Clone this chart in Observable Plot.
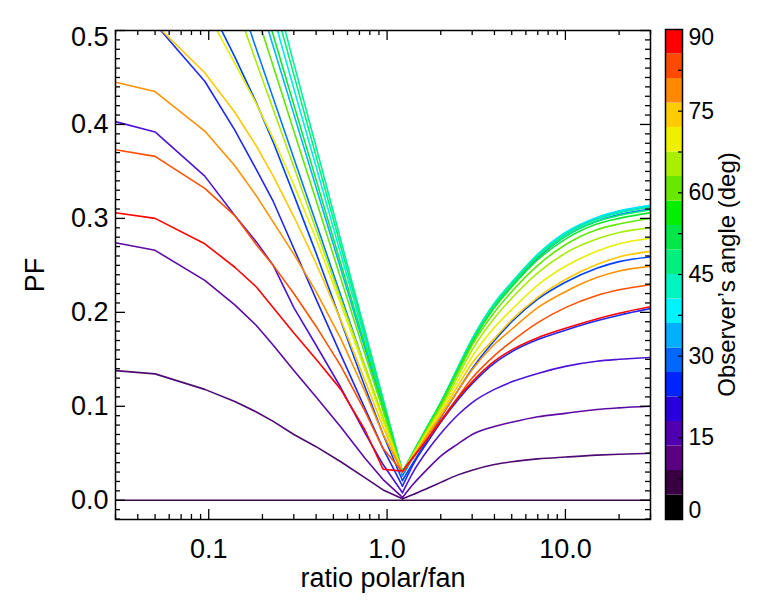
<!DOCTYPE html>
<html><head><meta charset="utf-8">
<script src="https://cdn.jsdelivr.net/npm/d3@7"></script>
<script src="https://cdn.jsdelivr.net/npm/@observablehq/plot@0.6"></script>
<style>
body{margin:0;background:#fff;}
#wrap{position:relative;width:764px;height:611px;background:#fff;}
#wrap svg{position:absolute;top:0;}
</style></head><body><div id="wrap"></div>
<script>
// ---- data ----
const ANGLES = [0,5,10,15,20,25,30,35,40,45,50,55,60,65,70,75,80,85,90];
const LINE_COLORS = ["#3a0a48","#4d0a72","#5c0aa5","#4c14d4","#1e28f0","#0040ff","#0078ff","#00b4ff","#00e8f0","#00f0a0","#00f070","#10e830","#60e800","#a8ec00","#e8f000","#ffc800","#ff9000","#ff5000","#ff0000"];
const X_LEFT  = [0.03, 0.05, 0.095, 0.14, 0.185, 0.23, 0.3, 0.4, 0.55, 0.75, 0.95, 1.22];
const X_RIGHT = [1.22, 1.4, 1.7, 2, 2.5, 3, 4, 5, 7, 10, 15, 20, 30];

const L00 = [0,0,0,0,0,0,0,0,0,0,0,0];
const L05 = [.138,.1345,.118,.105,.094,.084,.070,.057,.041,.024,.011,.0015];
const L10 = [.274,.266,.234,.208,.186,.165,.138,.110,.078,.045,.022,.003];
const L15 = [.403,.392,.345,.303,.275,.250,.205,.165,.120,.072,.038,.008];
const L20 = [.522,.507,.446,.394,.352,.318,.268,.214,.155,.098,.055,.015];
const L25 = [.660,.600,.536,.472,.423,.381,.325,.263,.191,.121,.070,.021];
const L30 = [.919,.796,.641,.548,.480,.428,.364,.295,.218,.143,.086,.026];
const L35 = [1.037,.898,.724,.618,.542,.483,.411,.333,.246,.162,.098,.030];
const L40 = [1.109,.960,.774,.660,.579,.516,.438,.355,.262,.172,.103,.030];
const L45 = [1.180,1.021,.822,.702,.615,.548,.465,.376,.277,.181,.108,.030];
const L50 = [1.148,.994,.801,.683,.599,.533,.453,.366,.270,.177,.106,.030];
const L55 = [1.063,.920,.742,.633,.555,.495,.421,.341,.252,.166,.100,.030];
const L60 = [.989,.857,.691,.590,.518,.462,.393,.319,.236,.156,.095,.030];
const L65 = [.888,.769,.621,.531,.466,.416,.355,.288,.214,.143,.088,.030];
const L70 = [.620,.575,.524,.465,.422,.385,.336,.278,.209,.139,.084,.030];
const L75 = [.515,.507,.455,.413,.377,.345,.302,.252,.192,.128,.078,.030];
const L80 = [.445,.435,.393,.356,.324,.296,.262,.222,.172,.116,.070,.030];
const L85 = [.373,.366,.332,.303,.272,.250,.220,.185,.143,.095,.055,.030];
const L90 = [.306,.300,.273,.248,.227,.205,.178,.150,.118,.075,.033,.031];

const R00 = [0,0,0,0,0,0,0,0,0,0,0,0,0];
const R05 = [.0015,.006,.013,.019,.027,.032,.038,.041,.044,.046,.048,.049,.050];
const R10 = [.003,.017,.034,.047,.060,.070,.0785,.083,.0888,.0925,.0966,.0983,.100];
const R15 = [.008,.030,.054,.071,.091,.104,.118,.126,.135,.1425,.148,.150,.152];
const R20 = [.015,.038,.063,.083,.107,.124,.146,.158,.171,.181,.191,.197,.204];
const R25 = [.021,.040,.066,.088,.117,.140,.170,.190,.214,.232,.247,.254,.259];
const R30 = [.026,.046,.075,.100,.138,.168,.206,.228,.258,.281,.297,.304,.310];
const R35 = [.030,.050,.079,.103,.141,.171,.209,.231,.261,.284,.300,.307,.313];
const R40 = [.030,.051,.080,.104,.142,.172,.210,.232,.262,.285,.301,.308,.314];
const R45 = [.030,.051,.080,.104,.141,.171,.209,.231,.261,.283,.299,.306,.312];
const R50 = [.030,.051,.080,.104,.140,.170,.207,.229,.259,.281,.297,.303,.309];
const R55 = [.030,.050,.079,.103,.139,.168,.205,.227,.256,.278,.294,.300,.306];
const R60 = [.030,.050,.078,.101,.136,.165,.200,.222,.250,.272,.288,.294,.300];
const R65 = [.030,.049,.076,.098,.132,.160,.194,.215,.242,.263,.278,.285,.290];
const R70 = [.030,.048,.074,.095,.127,.153,.184,.203,.229,.249,.265,.273,.279];
const R75 = [.030,.047,.072,.092,.122,.146,.172,.192,.216,.235,.251,.259,.265];
const R80 = [.030,.046,.070,.089,.117,.139,.166,.182,.205,.222,.237,.244,.249];
const R85 = [.030,.045,.067,.085,.110,.130,.154,.169,.189,.205,.218,.224,.2295];
const R90 = [.031,.046,.066,.084,.109,.126,.148,.160,.173,.183,.193,.199,.206];

const LEFT  = [L00,L05,L10,L15,L20,L25,L30,L35,L40,L45,L50,L55,L60,L65,L70,L75,L80,L85,L90];
const RIGHT = [R00,R05,R10,R15,R20,R25,R30,R35,R40,R45,R50,R55,R60,R65,R70,R75,R80,R85,R90];

const X_MAJOR = [0.1, 1, 10];
const X_LABELS = ["0.1", "1.0", "10.0"];
const X_MINOR = [0.03,0.04,0.05,0.06,0.07,0.08,0.09,0.2,0.3,0.4,0.5,0.6,0.7,0.8,0.9,2,3,4,5,6,7,8,9,20,30];
const Y_MAJOR = [0, 0.1, 0.2, 0.3, 0.4, 0.5];
const Y_LABELS = ["0.0","0.1","0.2","0.3","0.4","0.5"];
const Y_MINOR = [-0.02,-0.01,0.01,0.02,0.03,0.04,0.05,0.06,0.07,0.08,0.09,0.11,0.12,0.13,0.14,0.15,0.16,0.17,0.18,0.19,0.21,0.22,0.23,0.24,0.25,0.26,0.27,0.28,0.29,0.31,0.32,0.33,0.34,0.35,0.36,0.37,0.38,0.39,0.41,0.42,0.43,0.44,0.45,0.46,0.47,0.48,0.49];

const BAR_COLORS = ["#000000","#380040","#5a0080","#5000b0","#2800e0","#0024ff","#0068ff","#00b0ff","#00f4ff","#00f4c0","#00f080","#00e848","#00f000","#66e800","#aaee00","#eef000","#ffcc00","#ff8800","#ff4800","#ff0000"];
const BAR_STEP = 4.5;
const BAR_TICKS = [0, 15, 30, 45, 60, 75, 90];
const BAR_MINOR = [7.5,15,22.5,30,37.5,45,52.5,60,67.5,75,82.5];

// ---- build rows ----
const leftRows = [], rightRows = [];
ANGLES.forEach((a, k) => {
  X_LEFT.forEach((x, i) => leftRows.push({angle: a, x, pf: LEFT[k][i], color: LINE_COLORS[k]}));
  X_RIGHT.forEach((x, i) => rightRows.push({angle: a, x, pf: RIGHT[k][i], color: LINE_COLORS[k]}));
});
const bands = BAR_COLORS.map((c, i) => ({lo: i * BAR_STEP, hi: (i + 1) * BAR_STEP, color: c}));

const FONT = "'Liberation Sans', Arial, Helvetica, sans-serif";
const FS = 27;

const main = Plot.plot({
  width: 764, height: 611,
  marginLeft: 115, marginRight: 114, marginTop: 30, marginBottom: 92,
  x: {type: "log", domain: [0.03, 30], axis: null},
  y: {domain: [-0.0205, 0.5], axis: null},
  color: {type: "identity"},
  style: {fontFamily: FONT, background: "white", color: "black"},
  marks: [
    Plot.line(leftRows, {x: "x", y: "pf", z: "angle", stroke: "color", strokeWidth: 1.6, clip: true}),
    Plot.line(rightRows, {x: "x", y: "pf", z: "angle", stroke: "color", strokeWidth: 1.6, curve: "monotone-x", clip: true}),
    Plot.ruleX(X_MAJOR, {x: d => d, insetTop: 479, stroke: "black", strokeWidth: 1.3}),
    Plot.ruleX(X_MAJOR, {x: d => d, insetBottom: 479, stroke: "black", strokeWidth: 1.3}),
    Plot.ruleX(X_MINOR, {x: d => d, insetTop: 484, stroke: "black", strokeWidth: 1.3}),
    Plot.ruleX(X_MINOR, {x: d => d, insetBottom: 484, stroke: "black", strokeWidth: 1.3}),
    Plot.ruleY(Y_MAJOR, {y: d => d, insetRight: 525, stroke: "black", strokeWidth: 1.3}),
    Plot.ruleY(Y_MAJOR, {y: d => d, insetLeft: 525, stroke: "black", strokeWidth: 1.3}),
    Plot.ruleY(Y_MINOR, {y: d => d, insetRight: 530, stroke: "black", strokeWidth: 1.3}),
    Plot.ruleY(Y_MINOR, {y: d => d, insetLeft: 530, stroke: "black", strokeWidth: 1.3}),
    Plot.frame({stroke: "black", strokeWidth: 1.5}),
    Plot.text(X_MAJOR, {x: d => d, text: (d, i) => X_LABELS[i], frameAnchor: "bottom", textAnchor: "middle", lineAnchor: "middle", dy: 30, fontSize: FS, fill: "black"}),
    Plot.text(Y_MAJOR.slice(0, 5), {y: d => d, text: (d, i) => Y_LABELS[i], frameAnchor: "left", dx: -7, textAnchor: "end", lineAnchor: "middle", fontSize: FS, fill: "black"}),
    Plot.text(Y_MAJOR.slice(5), {y: d => d, text: (d, i) => Y_LABELS[5 + i], frameAnchor: "left", dx: -7, dy: 7, textAnchor: "end", lineAnchor: "middle", fontSize: FS, fill: "black"}),
    Plot.text(["ratio polar/fan"], {text: d => d, frameAnchor: "bottom", textAnchor: "middle", lineAnchor: "middle", dy: 59, fontSize: FS, fill: "black"}),
    Plot.text(["PF"], {text: d => d, frameAnchor: "left", textAnchor: "middle", lineAnchor: "middle", dx: -80, rotate: -90, fontSize: FS, fill: "black"})
  ]
});
main.style.left = "0px";

const bar = Plot.plot({
  width: 114, height: 611,
  marginLeft: 15, marginRight: 82, marginTop: 29, marginBottom: 92,
  x: {domain: [0, 1], axis: null},
  y: {domain: [0, 90], axis: null},
  color: {type: "identity"},
  style: {fontFamily: FONT, background: "transparent", color: "black", overflow: "visible"},
  marks: [
    Plot.rect(bands, {x1: 0, x2: 1, y1: "lo", y2: "hi", fill: "color"}),
    Plot.ruleY(BAR_MINOR, {y: d => d, insetLeft: 13, stroke: "black", strokeWidth: 1.2}),
    Plot.frame({stroke: "black", strokeWidth: 1.5}),
    Plot.text(BAR_TICKS.slice(1, 6), {y: d => d, text: d => String(d), frameAnchor: "right", dx: 6, textAnchor: "start", lineAnchor: "middle", fontSize: 23, fill: "black"}),
    Plot.text(BAR_TICKS.slice(6), {y: d => d, text: d => String(d), frameAnchor: "right", dx: 6, dy: 8, textAnchor: "start", lineAnchor: "middle", fontSize: 23, fill: "black"}),
    Plot.text(BAR_TICKS.slice(0, 1), {y: d => d, text: d => String(d), frameAnchor: "right", dx: 6, dy: -9, textAnchor: "start", lineAnchor: "middle", fontSize: 23, fill: "black"}),
    Plot.text(["Observer\u2019s angle (deg)"], {text: d => d, frameAnchor: "right", textAnchor: "middle", lineAnchor: "middle", dx: 45, rotate: -90, fontSize: 24, fill: "black"})
  ]
});
bar.style.left = "650px";

const wrap = document.getElementById("wrap");
wrap.appendChild(main);
wrap.appendChild(bar);
</script>
</body></html>
